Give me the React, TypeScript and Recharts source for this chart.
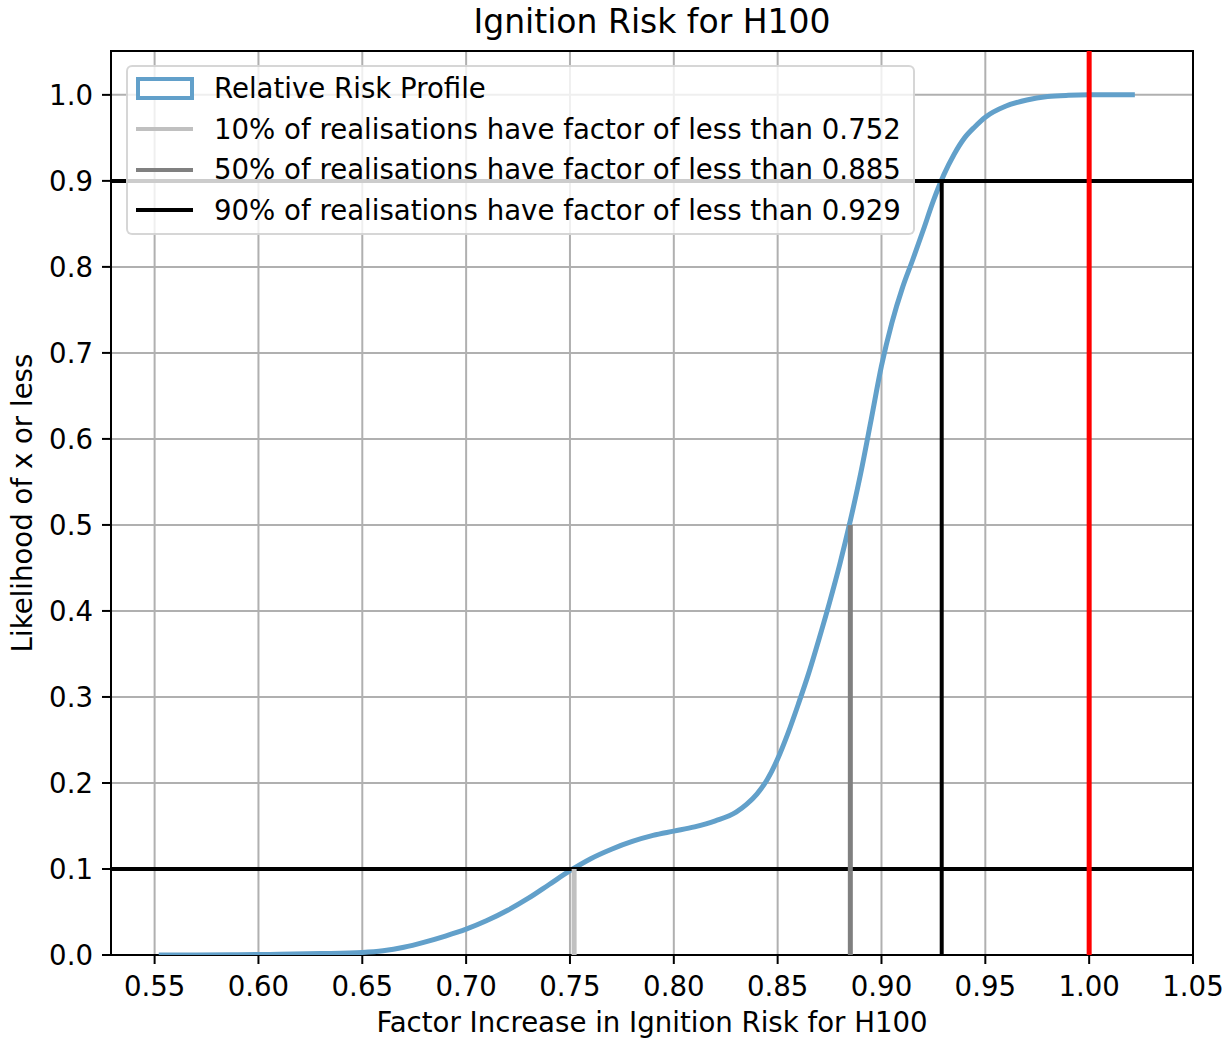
import {
  CartesianGrid, Legend, Line, LineChart, ReferenceArea, ReferenceLine, XAxis, YAxis,
} from "recharts";

// values
const factors = [
  0.552, 0.57, 0.59, 0.61, 0.63, 0.65, 0.66, 0.67, 0.68, 0.69, 0.7, 0.71, 0.72, 0.73, 0.74,
  0.75, 0.76, 0.77, 0.78, 0.79, 0.8, 0.81, 0.82, 0.83, 0.835, 0.84, 0.845, 0.85, 0.855, 0.86,
  0.865, 0.87, 0.875, 0.88, 0.885, 0.89, 0.895, 0.9, 0.905, 0.91, 0.915, 0.92, 0.925, 0.93,
  0.935, 0.94, 0.945, 0.95, 0.96, 0.97, 0.98, 0.99, 1.0, 1.01, 1.022,
];
const likelihood = [
  0, 0, 0.0003, 0.0008, 0.0016, 0.003, 0.005, 0.009, 0.015, 0.022, 0.03, 0.04, 0.052, 0.066, 0.082,
  0.098, 0.112, 0.123, 0.132, 0.139, 0.144, 0.149, 0.156, 0.166, 0.175, 0.187, 0.204, 0.228, 0.258, 0.292,
  0.328, 0.368, 0.41, 0.455, 0.505, 0.56, 0.622, 0.685, 0.735, 0.775, 0.808, 0.842, 0.877, 0.907,
  0.931, 0.95, 0.963, 0.974, 0.987, 0.994, 0.998, 0.9995, 1.0, 1.0, 1.0,
];

const xTicks = [0.55, 0.6, 0.65, 0.7, 0.75, 0.8, 0.85, 0.9, 0.95, 1.0, 1.05];
const yTicks = [0, 0.1, 0.2, 0.3, 0.4, 0.5, 0.6, 0.7, 0.8, 0.9, 1.0];

const quantilePct = [10, 50, 90];
const quantileFactor = [0.752, 0.885, 0.929];
const quantileLevel = [0.1, 0.5, 0.9];
const levelLines = [0.1, 0.9];
const baseline = 1.0;

const curveLabel = "Relative Risk Profile";

const xDomain = [0.529, 1.05];
const yDomain = [0, 1.051];

const FONT = "'DejaVu Sans', sans-serif";
const FS = 27.6;
const BLUE = "#62a0ca";
const quantileColors = ["#c0c0c0", "#808080", "#000000"];

const data = factors.map((x, i) => ({ x, y: likelihood[i] }));

function RiskLegend() {
  const rows = [
    { label: curveLabel, kind: "patch", color: BLUE },
    ...quantilePct.map((p, i) => ({
      label: `${p}% of realisations have factor of less than ${quantileFactor[i].toFixed(3)}`,
      kind: "line",
      color: quantileColors[i],
    })),
  ];
  return (
    <div
      style={{
        width: 789,
        height: 170,
        boxSizing: "border-box",
        background: "rgba(255,255,255,0.8)",
        border: "2px solid rgba(204,204,204,0.8)",
        borderRadius: 6,
        padding: "1px 0 0 8px",
        fontFamily: FONT,
        fontSize: FS,
        color: "#000",
      }}
    >
      {rows.map((r) => (
        <div key={r.label} style={{ display: "flex", alignItems: "center", height: 40.7 }}>
          <div style={{ width: 78, display: "flex", alignItems: "center" }}>
            {r.kind === "patch" ? (
              <div style={{ width: 58, height: 23, boxSizing: "border-box", border: `4px solid ${r.color}`, background: "#fff" }} />
            ) : (
              <div style={{ width: 57, height: 4, background: r.color }} />
            )}
          </div>
          <span style={{ whiteSpace: "nowrap" }}>{r.label}</span>
        </div>
      ))}
    </div>
  );
}

export default function App() {
  return (
    <div style={{ position: "absolute", left: 0, top: 0, width: 1231, height: 1040, background: "#fff" }}>
      <div
        style={{
          position: "absolute",
          left: 111,
          width: 1082,
          top: 2,
          textAlign: "center",
          fontFamily: FONT,
          fontSize: 33,
          color: "#000",
        }}
      >
        Ignition Risk for H100
      </div>
      <div style={{ position: "absolute", left: 0, top: 0 }}>
        <LineChart width={1231} height={1040} data={data} margin={{ top: 51, right: 38, left: 0, bottom: 0 }}>
          <CartesianGrid stroke="#b0b0b0" strokeWidth={2} />
          <XAxis
            dataKey="x"
            type="number"
            domain={xDomain}
            ticks={xTicks}
            allowDataOverflow
            height={85}
            axisLine={false}
            tickSize={9}
            tickMargin={12}
            tickLine={{ stroke: "#000", strokeWidth: 2 }}
            tick={{ fill: "#000", fontSize: FS, fontFamily: FONT }}
            tickFormatter={(v: number) => v.toFixed(2)}
            label={{
              value: "Factor Increase in Ignition Risk for H100",
              position: "insideBottom",
              offset: 8,
              style: { fill: "#000", fontSize: FS, fontFamily: FONT },
            }}
          />
          <YAxis
            type="number"
            domain={yDomain}
            ticks={yTicks}
            allowDataOverflow
            width={111}
            axisLine={false}
            tickSize={9}
            tickMargin={9}
            tickLine={{ stroke: "#000", strokeWidth: 2 }}
            tick={{ fill: "#000", fontSize: FS, fontFamily: FONT }}
            tickFormatter={(v: number) => v.toFixed(1)}
            label={{
              value: "Likelihood of x or less",
              angle: -90,
              position: "insideLeft",
              offset: 22,
              style: { fill: "#000", fontSize: FS, fontFamily: FONT, textAnchor: "middle" },
            }}
          />
          <Line
            dataKey="y"
            type="monotone"
            stroke={BLUE}
            strokeWidth={5}
            dot={false}
            activeDot={false}
            isAnimationActive={false}
          />
          {levelLines.map((lv) => (
            <ReferenceLine key={`h${lv}`} y={lv} stroke="#000" strokeWidth={4} />
          ))}
          {quantileFactor.map((q, i) => (
            <ReferenceLine
              key={`v${q}`}
              segment={[{ x: q, y: 0 }, { x: q, y: quantileLevel[i] }]}
              stroke={quantileColors[i]}
              strokeWidth={i === 2 ? 4 : 5}
            />
          ))}
          <ReferenceLine x={baseline} stroke="#ff0000" strokeWidth={5} />
          <ReferenceArea
            x1={xDomain[0]}
            x2={xDomain[1]}
            y1={yDomain[0]}
            y2={yDomain[1]}
            fill="none"
            stroke="#000"
            strokeWidth={2}
          />
          <Legend
            layout="horizontal"
            verticalAlign="middle"
            align="center"
            content={() => <RiskLegend />}
            wrapperStyle={{ left: 126, top: 65, width: 789, height: 170 }}
          />
        </LineChart>
      </div>
    </div>
  );
}
